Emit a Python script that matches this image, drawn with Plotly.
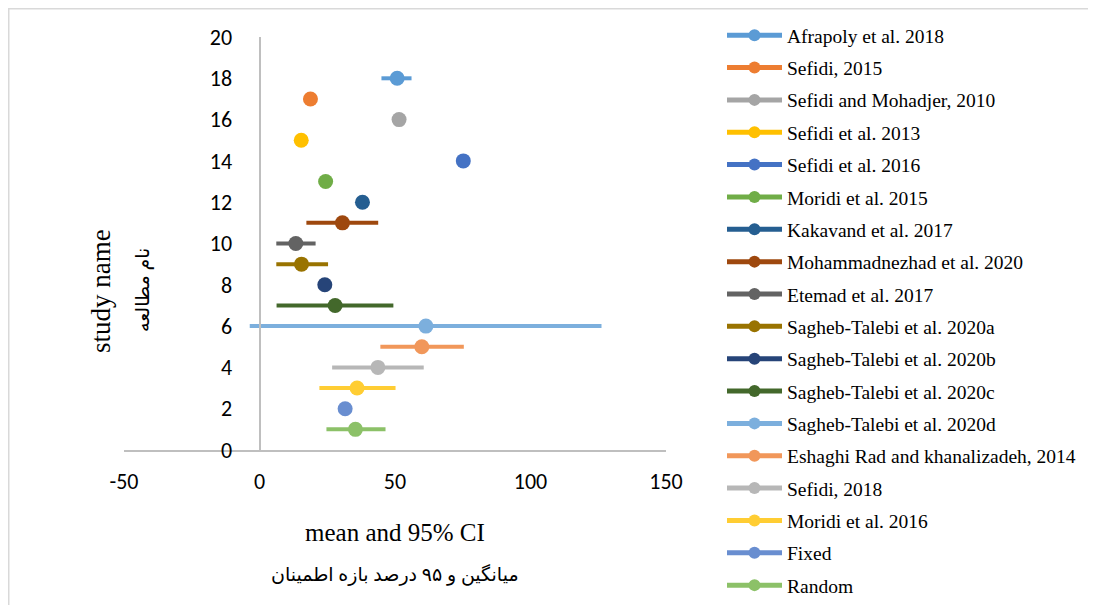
import plotly.graph_objects as go

studies = ["Afrapoly et al. 2018", "Sefidi, 2015", "Sefidi and Mohadjer, 2010", "Sefidi et al. 2013",
           "Sefidi et al. 2016", "Moridi et al. 2015", "Kakavand et al. 2017", "Mohammadnezhad et al. 2020",
           "Etemad et al. 2017", "Sagheb-Talebi et al. 2020a", "Sagheb-Talebi et al. 2020b",
           "Sagheb-Talebi et al. 2020c", "Sagheb-Talebi et al. 2020d", "Eshaghi Rad and khanalizadeh, 2014",
           "Sefidi, 2018", "Moridi et al. 2016", "Fixed", "Random"]
positions = [18, 17, 16, 15, 14, 13, 12, 11, 10, 9, 8, 7, 6, 5, 4, 3, 2, 1]
means = [50.8, 18.8, 51.5, 15.4, 75.2, 24.4, 38.0, 30.6, 13.4, 15.5, 24.1, 27.9, 61.4, 59.9, 43.7, 36.0, 31.6, 35.4]
lower = [45.0, 17.8, 51.5, 15.4, 75.2, 24.4, 38.0, 17.3, 6.2, 6.2, 24.1, 6.3, -3.6, 44.6, 26.8, 22.1, 31.6, 24.7]
upper = [56.1, 19.8, 51.5, 15.4, 75.2, 24.4, 38.0, 43.8, 20.7, 25.3, 24.1, 49.4, 126.2, 75.4, 60.6, 50.2, 31.6, 46.5]
colors = ["#5B9BD5", "#ED7D31", "#A5A5A5", "#FFC000", "#4472C4", "#70AD47", "#255E91", "#9E480E",
          "#636363", "#997300", "#264478", "#43682B", "#7CAFDD", "#F1975A", "#B7B7B7", "#FFCD33",
          "#698ED0", "#8CC168"]
x_ticks = [-50, 0, 50, 100, 150]
x_ticktext = ["-50", "0", "50", "100", "150"]
y_ticks = [0, 2, 4, 6, 8, 10, 12, 14, 16, 18, 20]

OFF = 8  # page body margin
W, H = 1096 - OFF, 605 - OFF
# plot area in page pixels: x 124..666, y 37..450
L, R, T, B = 124 - OFF, W - (666 - OFF), 37 - OFF, H - (450 - OFF)
pw, ph = W - L - R, H - T - B

def px(x):
    return (x - OFF - L) / pw

def py(y):
    return (T + ph - (y - OFF)) / ph

fig = go.Figure()
for i, name in enumerate(studies):
    fig.add_trace(go.Scatter(
        x=[lower[i], means[i], upper[i]],
        y=[positions[i]] * 3,
        mode="lines+markers",
        name=name,
        legendgroup=name,
        line=dict(color=colors[i], width=4),
        marker=dict(color=colors[i], size=[0, 15, 0], opacity=1,
                    line=dict(width=0, color=colors[i])),
        hoverinfo="x+y+name",
    ))

axis_color = "#BFBFBF"
tick_font = dict(family="Carlito, Lato, sans-serif", size=22, color="black")
fig.update_layout(
    width=W, height=H,
    margin=dict(l=L, r=R, t=T, b=B),
    paper_bgcolor="white", plot_bgcolor="white",
    xaxis=dict(range=[-50, 150], tickvals=x_ticks, ticktext=x_ticktext, showgrid=False, zeroline=False,
               showline=True, linecolor=axis_color, linewidth=2,
               ticks="", ticklabelstandoff=11, tickfont=tick_font),
    yaxis=dict(range=[0, 20], tickvals=y_ticks, showgrid=False, zeroline=False,
               anchor="free", position=0.25,
               showline=True, linecolor=axis_color, linewidth=2,
               ticks="", ticklabelstandoff=22, tickfont=tick_font),
    legend=dict(x=px(722), y=py(24), xanchor="left", yanchor="top",
                font=dict(family="Liberation Serif, serif", size=19.5, color="black"),
                itemsizing="constant", itemwidth=55, tracegroupgap=4, maxheight=590,
                bgcolor="rgba(0,0,0,0)"),
    showlegend=True,
)

ann_font = "Liberation Serif, serif"
fig.add_annotation(x=px(101), y=py(291), xref="paper", yref="paper", text="study name",
                   textangle=-90, showarrow=False, xanchor="center", yanchor="middle",
                   font=dict(family=ann_font, size=27, color="black"))
fig.add_annotation(x=px(143), y=py(290), xref="paper", yref="paper", text="نام مطالعه",
                   textangle=-90, showarrow=False, xanchor="center", yanchor="middle",
                   font=dict(family="Liberation Serif, DejaVu Sans, serif", size=19, color="black"))
fig.add_annotation(x=px(395), y=py(532), xref="paper", yref="paper", text="mean and 95% CI",
                   showarrow=False, xanchor="center", yanchor="middle",
                   font=dict(family=ann_font, size=25, color="black"))
fig.add_annotation(x=px(395), y=py(574), xref="paper", yref="paper", text="میانگین و ۹۵ درصد بازه اطمینان",
                   showarrow=False, xanchor="center", yanchor="middle",
                   font=dict(family="Liberation Serif, DejaVu Sans, serif", size=19, color="black"))

fig.add_shape(type="rect", xref="paper", yref="paper",
              x0=px(8.75), y0=py(640), x1=px(1130), y1=py(8.75),
              line=dict(color="#D9D9D9", width=1.5), fillcolor="rgba(0,0,0,0)", layer="below")

fig.write_html("out.html")
